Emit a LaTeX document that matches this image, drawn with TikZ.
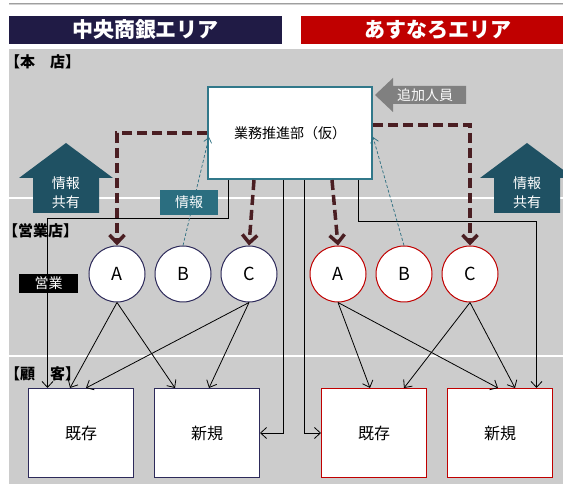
\documentclass[tikz,border=0pt]{standalone}
\usepackage{fontspec}
\setmainfont{Noto Sans CJK JP}
\usetikzlibrary{arrows, shapes, positioning, arrows.meta, calc}
\definecolor{areanavy}{HTML}{201B45}
\definecolor{areared}{HTML}{C00000}
\definecolor{floorgray}{HTML}{CCCCCC}
\definecolor{deptteal}{HTML}{31788A}
\definecolor{shareteal}{HTML}{1F5163}
\definecolor{infoteal}{HTML}{2B6E80}
\definecolor{pushbrown}{HTML}{4A1E22}
\definecolor{branchnavy}{HTML}{2D2A5A}
\definecolor{addgray}{HTML}{808080}
\newcommand{\branchD}[3]
{
	\draw[flow] (#2) -- +(0,#1) -| (#3)
}
\newcommand{\shareUp}[2]
{
	\fill[shareteal] (#1,143) -- (#1+47,178) -- (#1+33,178) -- (#1+33,213)
		-- (#1-33,213) -- (#1-33,178) -- (#1-47,178) -- cycle;
	\node[sharetext] at (#1,192.5) (#2){情報\\共有}
}

\begin{document}
\begin{tikzpicture}[x=1pt, y=-1pt,
			area/.style={minimum height=28pt, inner sep=0, text=white,
				font=\fontsize{21}{24}\selectfont\bfseries},
			sect/.style={anchor=west, inner sep=0,
				font=\fontsize{15}{18}\selectfont\bfseries},
			dept/.style={draw=deptteal, line width=2pt, fill=white,
				minimum width=164pt, minimum height=92pt,
				font=\fontsize{14}{16}\selectfont},
			brc/.style={shape=circle, fill=white, line width=1pt,
				minimum size=56pt, inner sep=0,
				font=\fontsize{18}{20}\selectfont},
			cust/.style={fill=white, line width=1pt,
				minimum width=105pt, minimum height=89pt, inner sep=0,
				font=\fontsize{16}{18}\selectfont},
			tag/.style={inner sep=0, text=white, font=\fontsize{14}{16}\selectfont},
			sharetext/.style={align=center, text=white, inner sep=0,
				font=\fontsize{14}{19}\selectfont},
			flow/.style={draw=black, line width=0.8pt,
				-{Straight Barb[length=6pt, width=11pt]}},
			push/.style={draw=pushbrown, line width=3.5pt, dash pattern=on 10pt off 5pt,
				-{Straight Barb[length=8pt, width=15pt]}},
			info/.style={draw=infoteal, line width=0.7pt, dash pattern=on 3pt off 2pt,
				-{Straight Barb[length=5pt, width=8pt]}}]
			
			\useasboundingbox (0,0) rectangle (563,486);
			\fill[floorgray] (9,49) rectangle (563,484);
			\draw[gray!75, line width=1.3pt] (9,3.3) -- (563,3.3);
			\draw[gray!35, line width=1.2pt] (9,4.6) -- (563,4.6);
			\draw[white, line width=1.5pt] (9,198) -- (563,198);
			\draw[white, line width=1.5pt] (9,356) -- (563,356);
			
			\node[area, fill=areanavy, minimum width=273pt] at (145.5,30) (chuo){中央商銀エリア};
			\node[area, fill=areared, minimum width=273pt] at (437.5,30) (asunaro){あすなろエリア};
			
			\shareUp{66}{shareL};
			\shareUp{527}{shareR};
			
			\fill[addgray] (375,95) -- (393,78) -- (393,86) -- (466,86) -- (466,104)
				-- (393,104) -- (393,112) -- cycle;
			\node[tag, text=white!95!gray] at (425,95) (addstaff){追加人員};
			
			\node[dept] at (290,133) (gyomu){業務推進部（仮）};
			
			\node[brc, draw=branchnavy] at (117,274) (cAL){A};
			\node[brc, draw=branchnavy] at (183,274) (cBL){B};
			\node[brc, draw=branchnavy] at (249,274) (cCL){C};
			\node[brc, draw=areared] at (338,274) (cAR){A};
			\node[brc, draw=areared] at (404,274) (cBR){B};
			\node[brc, draw=areared] at (470,274) (cCR){C};
			
			\node[cust, draw=branchnavy] at (81,433) (kizonL){既存};
			\node[cust, draw=branchnavy] at (207,433) (shinkiL){新規};
			\node[cust, draw=areared] at (374,433) (kizonR){既存};
			\node[cust, draw=areared] at (500,433) (shinkiR){新規};
			
			\branchD{38}{$(gyomu.south west)+(21,0)$}{$(kizonL.north west)+(19.5,0)$};
			\branchD{41}{$(gyomu.south west)+(151,0)$}{$(shinkiR.north west)+(89.5,0)$};
			\draw[flow] ($(gyomu.south west)+(76,0)$) |- (shinkiL.east);
			\draw[flow] ($(gyomu.south west)+(97,0)$) |- (kizonR.west);
			
			\draw[flow] (cAL.south) -- ($(kizonL.north west)+(42,0)$);
			\draw[flow] (cAL.south) -- ($(shinkiL.north west)+(21,0)$);
			\draw[flow] (cCL.south) -- ($(kizonL.north west)+(58,0)$);
			\draw[flow] (cCL.south) -- ($(shinkiL.north west)+(55,0)$);
			\draw[flow] (cAR.south) -- ($(kizonR.north west)+(49,0)$);
			\draw[flow] (cAR.south) -- ($(shinkiR.north west)+(51,0)$);
			\draw[flow] (cCR.south) -- ($(kizonR.north west)+(83,0)$);
			\draw[flow] (cCR.south) -- ($(shinkiR.north west)+(68,0)$);
			
			\draw[push] (gyomu.west) -| (cAL.north);
			\draw[push] ($(gyomu.south west)+(47,0)$) -- (cCL.north);
			\draw[push] ($(gyomu.south west)+(125,0)$) -- (cAR.north);
			\draw[push] ($(gyomu.east)+(0,-8)$) -| (cCR.north);
			
			\node[tag, fill=infoteal, minimum width=58pt, minimum height=25pt] at (189,202.5) (infotag){情報};
			\node[tag, fill=black, minimum width=59pt, minimum height=19pt] at (48.5,283.5) (eigyo){営業};
			
			\draw[info] (cBL.north) -- ($(gyomu.west)+(2,4)$);
			\draw[info] (cBR.north) -- ($(gyomu.east)+(0,4)$);
			
			\node[sect] at (5,62) (honten){【本　店】};
			\node[sect] at (3,231) (eigyoten){【営業店】};
			\node[sect] at (5,374) (kokyaku){【顧　客】};
		\end{tikzpicture}
\end{document}
